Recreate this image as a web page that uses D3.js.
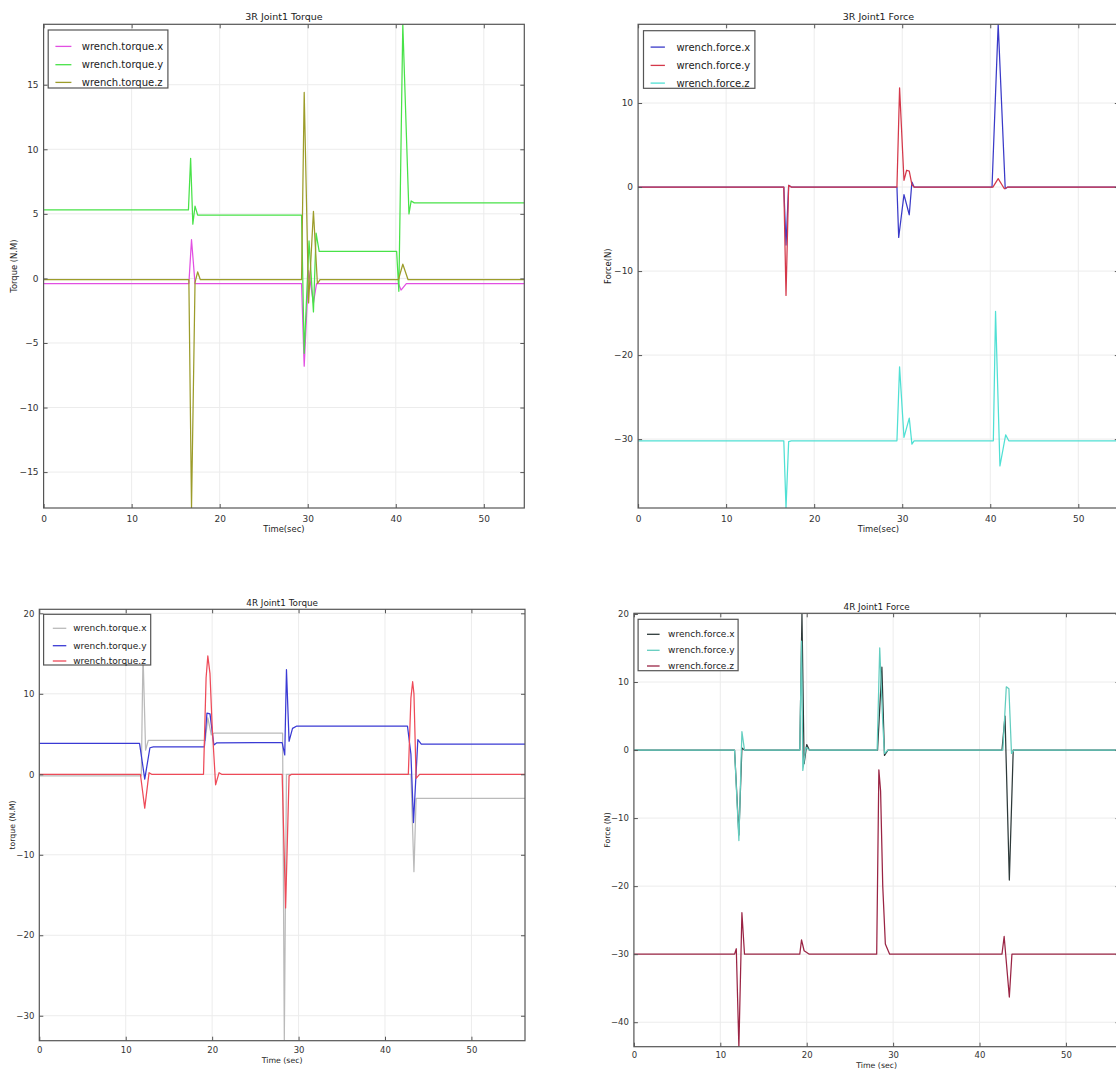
<!DOCTYPE html>
<html>
<head>
<meta charset="utf-8">
<script src="https://cdn.jsdelivr.net/npm/d3@7"></script>
<style>
  body { margin: 0; background: #fff; }
  svg { display: block; font-family: "DejaVu Sans", sans-serif; }
</style>
</head>
<body>
<svg id="fig" width="1116" height="1070"></svg>
<script>
// ---- data: [time (sec), value] ----

// 3R Joint1 Torque
const torque3R_x = [[0,-0.4],[16.5,-0.4],[16.8,3.0],[17.2,-0.4],[29.3,-0.4],[29.6,-6.8],[30.1,0.6],
  [30.65,-1.9],[31.0,-0.4],[40.3,-0.4],[40.6,-0.9],[41.2,-0.4],[54.6,-0.4]];
const torque3R_y = [[0,5.3],[16.45,5.3],[16.7,9.3],[16.95,4.2],[17.2,5.6],[17.5,4.9],[29.3,4.9],
  [29.6,-5.8],[30.15,2.9],[30.65,-2.6],[30.95,3.5],[31.3,2.1],[40.1,2.1],[40.35,-1.0],[40.8,19.7],
  [41.5,5.0],[41.75,6.0],[42.1,5.85],[54.6,5.85]];
const torque3R_z = [[0,-0.1],[16.5,-0.1],[16.8,-17.8],[17.2,-0.3],[17.5,0.5],[17.8,-0.1],[29.3,-0.1],
  [29.6,14.4],[30.1,-1.9],[30.65,5.2],[31.1,-0.4],[31.4,-0.1],[40.3,-0.1],[40.8,1.1],[41.4,-0.1],[54.6,-0.1]];

// 3R Joint1 Force
const force3R_x = [[0,0],[16.55,0],[16.8,-6.9],[17.1,0.2],[17.4,0],[29.4,0],[29.6,-6.0],[30.2,-0.9],
  [30.8,-3.3],[31.1,0.6],[31.35,0],[40.2,0],[40.9,19.4],[41.7,-0.2],[42.0,0],[54.6,0]];
const force3R_y = [[0,0],[16.55,0],[16.8,-12.9],[17.1,0.2],[17.4,0],[29.4,0],[29.7,11.8],[30.2,0.8],
  [30.5,2.0],[30.8,1.9],[31.1,0.3],[31.35,0],[40.3,0],[40.9,1.0],[41.6,-0.2],[42.0,0],[54.6,0]];
const force3R_z = [[0,-30.2],[16.55,-30.2],[16.8,-38.2],[17.1,-30.3],[17.4,-30.2],[29.4,-30.2],
  [29.7,-21.4],[30.2,-29.8],[30.8,-27.5],[31.1,-30.6],[31.35,-30.2],[40.35,-30.2],[40.6,-14.8],
  [41.1,-33.2],[41.75,-29.5],[42.1,-30.2],[54.6,-30.2]];

// 4R Joint1 Torque
const torque4R_x = [[0,-0.2],[11.8,-0.2],[12.0,15.0],[12.3,3.0],[12.6,4.2],[19.2,4.2],[19.5,7.0],
  [19.9,4.9],[20.2,5.1],[28.15,5.1],[28.35,-33.0],[28.6,0],[43.0,0],[43.35,-12.1],[43.6,-3.0],[56.2,-3.0]];
const torque4R_y = [[0,3.85],[11.6,3.85],[12.2,-0.6],[12.8,3.3],[13.2,3.4],[19.1,3.4],[19.4,7.6],
  [19.75,7.5],[20.2,3.65],[20.5,3.9],[28.1,3.95],[28.4,2.4],[28.6,13.0],[28.9,4.1],[29.3,5.7],
  [29.8,6.0],[42.6,6.0],[43.0,2.5],[43.3,-6.0],[43.8,4.3],[44.2,3.75],[56.2,3.75]];
const torque4R_z = [[0,0],[11.7,0],[12.2,-4.2],[12.7,0.2],[13.0,0],[19.0,0],[19.3,12.0],[19.5,14.7],
  [19.75,12.5],[20.0,6.0],[20.4,-1.3],[20.8,0.2],[21.1,0],[28.1,0],[28.5,-16.6],[28.9,-0.2],[29.2,0],
  [42.7,0],[43.0,9.5],[43.2,11.5],[43.35,10.0],[43.6,-0.5],[44.0,0],[56.2,0]];

// 4R Joint1 Force
const force4R_x = [[0,0],[11.65,0],[12.15,-12.5],[12.5,0.3],[12.8,0],[19.2,0],[19.45,20.0],[19.7,-2.0],
  [20.0,0.8],[20.3,0],[28.2,0],[28.7,12.2],[29.0,-0.8],[29.4,0],[42.6,0],[42.95,5.0],[43.45,-19.1],
  [43.9,0],[56.2,0]];
const force4R_y = [[0,0],[11.65,0],[12.15,-13.3],[12.5,2.7],[12.8,0],[19.2,0],[19.4,16.0],[19.55,-3.0],
  [19.9,0.4],[20.3,0],[28.15,0],[28.45,15.0],[28.8,4.0],[29.0,-0.5],[29.4,0],[42.7,0],[43.1,9.3],
  [43.4,9.0],[43.7,-0.5],[44.0,0],[56.2,0]];
const force4R_z = [[0,-30],[11.65,-30],[11.85,-29.2],[12.15,-43.7],[12.5,-23.9],[12.8,-30],[19.2,-30],
  [19.4,-27.9],[19.7,-29.5],[20.3,-30],[28.1,-30],[28.35,-2.9],[28.55,-6.0],[28.8,-20.0],[29.1,-28.5],
  [29.6,-30],[42.6,-30],[42.85,-27.4],[43.45,-36.3],[43.75,-30],[56.2,-30]];

// tick labels
const X_TICKS = [0, 10, 20, 30, 40, 50];
const Y_TICKS_3R_TORQUE = [-15, -10, -5, 0, 5, 10, 15];
const Y_TICKS_3R_FORCE = [-30, -20, -10, 0, 10];
const Y_TICKS_4R_TORQUE = [-30, -20, -10, 0, 10, 20];
const Y_TICKS_4R_FORCE = [-40, -30, -20, -10, 0, 10, 20];

const torqueNames = ["wrench.torque.x", "wrench.torque.y", "wrench.torque.z"];
const forceNames = ["wrench.force.x", "wrench.force.y", "wrench.force.z"];

// ---- panel layout ----
const panels = [
  { title: "3R Joint1 Torque", xlabel: "Time(sec)", ylabel: "Torque (N.M)",
    box: {l: 43.6, t: 24.3, r: 524.3, b: 508}, xdom: [0, 54.6], ydom: [-17.78, 19.68],
    yticks: Y_TICKS_3R_TORQUE, names: torqueNames,
    series: [torque3R_x, torque3R_y, torque3R_z], colors: ["#e24fe2", "#48e248", "#9c9c2a"],
    titleY: 20, xlabelY: 532, ylabelX: 14, tickFs: 9, labelFs: 8.4, titleFs: 9.5, tickLabY: 519,
    leg: {dx: 4.6, dy: 5.7, w: 119.7, h: 58, l0: 11.8, l1: 27.8, tx: 38.2, rows: [16.4, 34.7, 52.4], fs: 10} },
  { title: "3R Joint1 Force", xlabel: "Time(sec)", ylabel: "Force(N)",
    box: {l: 638.1, t: 24.3, r: 1118.8, b: 508}, xdom: [0, 54.6], ydom: [-38.2, 19.37],
    yticks: Y_TICKS_3R_FORCE, names: forceNames,
    series: [force3R_x, force3R_y, force3R_z], colors: ["#3a3ac8", "#d4384a", "#50e0d4"],
    titleY: 20, xlabelY: 532, ylabelX: 608, tickFs: 9, labelFs: 8.4, titleFs: 9.5, tickLabY: 519,
    leg: {dx: 5.4, dy: 6.4, w: 111.4, h: 57.6, l0: 12.5, l1: 26.8, tx: 38.3, rows: [16.4, 34.7, 52.4], fs: 10} },
  { title: "4R Joint1 Torque", xlabel: "Time (sec)", ylabel: "torque (N.M)",
    box: {l: 39.3, t: 609.3, r: 525, b: 1040.7}, xdom: [0, 56.2], ydom: [-33.1, 20.5],
    yticks: Y_TICKS_4R_TORQUE, names: torqueNames,
    series: [torque4R_x, torque4R_y, torque4R_z], colors: ["#bababa", "#3a3ad4", "#ee4a58"],
    titleY: 606, xlabelY: 1063, ylabelX: 12, tickFs: 8.5, labelFs: 7.8, titleFs: 8.8, tickLabY: 1050,
    leg: {dx: 4.3, dy: 5, w: 107.1, h: 50.7, l0: 13.5, l1: 27, tx: 33.9, rows: [14, 31.4, 46.7], fs: 9} },
  { title: "4R Joint1 Force", xlabel: "Time (sec)", ylabel: "Force (N)",
    box: {l: 633.9, t: 613.3, r: 1119.5, b: 1046.7}, xdom: [0, 56.2], ydom: [-43.6, 20.1],
    yticks: Y_TICKS_4R_FORCE, names: forceNames,
    series: [force4R_x, force4R_y, force4R_z], colors: ["#2e3a3a", "#62cdbf", "#9a2444"],
    titleY: 610, xlabelY: 1068, ylabelX: 607, tickFs: 8.5, labelFs: 7.8, titleFs: 8.8, tickLabY: 1055,
    leg: {dx: 4.2, dy: 6, w: 100, h: 51.4, l0: 13.1, l1: 25.7, tx: 34.2, rows: [15, 31, 46.7], fs: 9} }
];

const svg = d3.select("#fig");
const fmt = (d) => (d < 0 ? "\u2212" + Math.abs(d) : String(d));

panels.forEach((p, i) => {
  const b = p.box;
  const x = d3.scaleLinear().domain(p.xdom).range([b.l, b.r]);
  const y = d3.scaleLinear().domain(p.ydom).range([b.b, b.t]);
  const g = svg.append("g");

  // grid (faint)
  g.selectAll(".gx").data(X_TICKS.filter(d => d > p.xdom[0])).enter().append("line")
    .attr("x1", d => x(d)).attr("x2", d => x(d)).attr("y1", b.t).attr("y2", b.b)
    .attr("stroke", "#ececec").attr("stroke-width", 1);
  g.selectAll(".gy").data(p.yticks).enter().append("line")
    .attr("x1", b.l).attr("x2", b.r).attr("y1", d => y(d)).attr("y2", d => y(d))
    .attr("stroke", "#ececec").attr("stroke-width", 1);

  // data lines
  const clipId = "clip" + i;
  svg.append("clipPath").attr("id", clipId).append("rect")
    .attr("x", b.l).attr("y", b.t).attr("width", b.r - b.l).attr("height", b.b - b.t);
  const line = d3.line().x(d => x(d[0])).y(d => y(d[1]));
  g.append("g").attr("clip-path", "url(#" + clipId + ")")
    .selectAll("path").data(p.series).enter().append("path")
      .attr("d", line).attr("fill", "none")
      .attr("stroke", (d, k) => p.colors[k]).attr("stroke-width", 1.25)
      .attr("stroke-linejoin", "round");

  // axes, ticks pointing inward
  const axB = g.append("g").attr("transform", "translate(0," + b.b + ")")
    .call(d3.axisBottom(x).tickValues(X_TICKS).tickSize(-4).tickPadding(0).tickFormat(fmt));
  const axT = g.append("g").attr("transform", "translate(0," + b.t + ")")
    .call(d3.axisTop(x).tickValues(X_TICKS).tickSize(-4).tickFormat(""));
  const axL = g.append("g").attr("transform", "translate(" + b.l + ",0)")
    .call(d3.axisLeft(y).tickValues(p.yticks).tickSize(-4).tickPadding(5).tickFormat(fmt));
  const axR = g.append("g").attr("transform", "translate(" + b.r + ",0)")
    .call(d3.axisRight(y).tickValues(p.yticks).tickSize(-4).tickFormat(""));
  [axB, axT, axL, axR].forEach(a => {
    a.select(".domain").remove();
    a.selectAll(".tick line").attr("stroke", "#555");
    a.selectAll("text").attr("font-family", "DejaVu Sans").attr("font-size", p.tickFs).attr("fill", "#333");
  });
  axB.selectAll("text").attr("y", p.tickLabY - b.b).attr("dy", "0.35em");

  // frame
  g.append("rect").attr("x", b.l).attr("y", b.t).attr("width", b.r - b.l).attr("height", b.b - b.t)
    .attr("fill", "none").attr("stroke", "#555").attr("stroke-width", 1.2);

  // title and labels
  const cx = (b.l + b.r) / 2;
  g.append("text").attr("x", cx).attr("y", p.titleY).attr("text-anchor", "middle")
    .attr("font-size", p.titleFs).attr("fill", "#222").text(p.title);
  g.append("text").attr("x", cx).attr("y", p.xlabelY).attr("text-anchor", "middle")
    .attr("font-size", p.labelFs).attr("fill", "#222").text(p.xlabel);
  g.append("text").attr("transform", "translate(" + p.ylabelX + "," + (b.t + b.b) / 2 + ") rotate(-90)")
    .attr("text-anchor", "middle").attr("dy", "0.35em")
    .attr("font-size", p.labelFs).attr("fill", "#222").text(p.ylabel);

  // legend
  const L = p.leg;
  const lg = g.append("g").attr("transform", "translate(" + (b.l + L.dx) + "," + (b.t + L.dy) + ")");
  lg.append("rect").attr("width", L.w).attr("height", L.h)
    .attr("fill", "#fff").attr("stroke", "#555").attr("stroke-width", 1.2);
  p.names.forEach((n, k) => {
    const ry = L.rows[k];
    lg.append("line").attr("x1", L.l0 - L.dx).attr("x2", L.l1 - L.dx).attr("y1", ry).attr("y2", ry)
      .attr("stroke", p.colors[k]).attr("stroke-width", 1.3);
    lg.append("text").attr("x", L.tx - L.dx).attr("y", ry).attr("dy", "0.35em")
      .attr("font-size", L.fs).attr("fill", "#222").text(n);
  });
});
</script>
</body>
</html>
